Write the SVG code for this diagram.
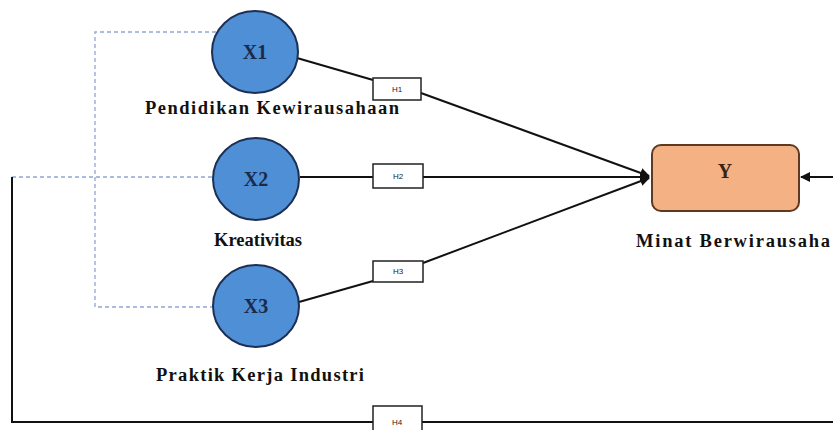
<svg xmlns="http://www.w3.org/2000/svg" width="833" height="430" viewBox="0 0 833 430">
<defs>
<style>
.circ{fill:#4e8fd6;stroke:#1d2f55;stroke-width:2}
.cl{font-family:"Liberation Serif",serif;font-weight:bold;font-size:20px;fill:#1b2a4a;text-anchor:middle}
.lbl{font-family:"Liberation Serif",serif;font-weight:bold;font-size:18.5px;fill:#111;text-anchor:middle}
.hb{fill:#fff;stroke:#222;stroke-width:1.5}
.ht{font-family:"Liberation Sans",sans-serif;font-size:8px;fill:#222;text-anchor:middle}
.ln{fill:none;stroke:#111;stroke-width:2}
.dash{fill:none;stroke:#8ea6d6;stroke-width:1.3;stroke-dasharray:4 3}
</style>
<marker id="arr" viewBox="0 0 10 10" refX="9" refY="5" markerWidth="5" markerHeight="5" orient="auto" markerUnits="strokeWidth">
<path d="M0,0 L10,5 L0,10 z" fill="#111"/>
</marker>
</defs>
<rect width="833" height="430" fill="#fff"/>
<g id="connectors">
<path class="dash" d="M216,32 H95 V307 H212"/>
<path class="dash" d="M212,177 H12"/>
<path class="ln" d="M297,58 L373,80"/>
<path class="ln" d="M421,93 L649,176" marker-end="url(#arr)"/>
<path class="ln" d="M300,177 H373"/>
<path class="ln" d="M423,177 H649" marker-end="url(#arr)"/>
<path class="ln" d="M299,302 L373,281"/>
<path class="ln" d="M423,263 L649,178" marker-end="url(#arr)"/>
<path class="ln" d="M12,177 V422 H373"/>
<path class="ln" d="M422,422 H840 V177 H840"/>
<path class="ln" d="M840,177 H801" marker-end="url(#arr)"/>
<g id="h1"><rect class="hb" x="373" y="78" width="48" height="22"/><text class="ht" x="397" y="92">H1</text></g>
<g id="h2"><rect class="hb" x="373" y="164" width="50" height="24"/><text class="ht" x="398" y="179">H2</text></g>
<g id="h3"><rect class="hb" x="373" y="261" width="50" height="21"/><text class="ht" x="398" y="274">H3</text></g>
<g id="h4"><rect class="hb" x="373" y="406" width="49" height="30"/><text class="ht" x="397" y="425">H4</text></g>
</g>
<g id="x1">
<ellipse class="circ" cx="255" cy="52" rx="43" ry="41"/>
<text class="cl" x="255" y="59">X1</text>
<text class="lbl" x="272" y="114" textLength="254" lengthAdjust="spacing">Pendidikan Kewirausahaan</text>
</g>
<g id="x2">
<ellipse class="circ" cx="256" cy="179" rx="43" ry="41"/>
<text class="cl" x="256" y="186">X2</text>
<text class="lbl" x="258" y="246" textLength="88" lengthAdjust="spacing">Kreativitas</text>
</g>
<g id="x3">
<ellipse class="circ" cx="256" cy="306" rx="43" ry="41"/>
<text class="cl" x="256" y="313">X3</text>
<text class="lbl" x="260" y="381" textLength="208" lengthAdjust="spacing">Praktik Kerja Industri</text>
</g>
<g id="y">
<rect x="652" y="145" width="147" height="66" rx="9" fill="#f4b183" stroke="#5e3a22" stroke-width="2"/>
<text class="cl" x="725" y="178" style="fill:#3a2415">Y</text>
<text class="lbl" x="733" y="247" textLength="194" lengthAdjust="spacing">Minat Berwirausaha</text>
</g>
</svg>
